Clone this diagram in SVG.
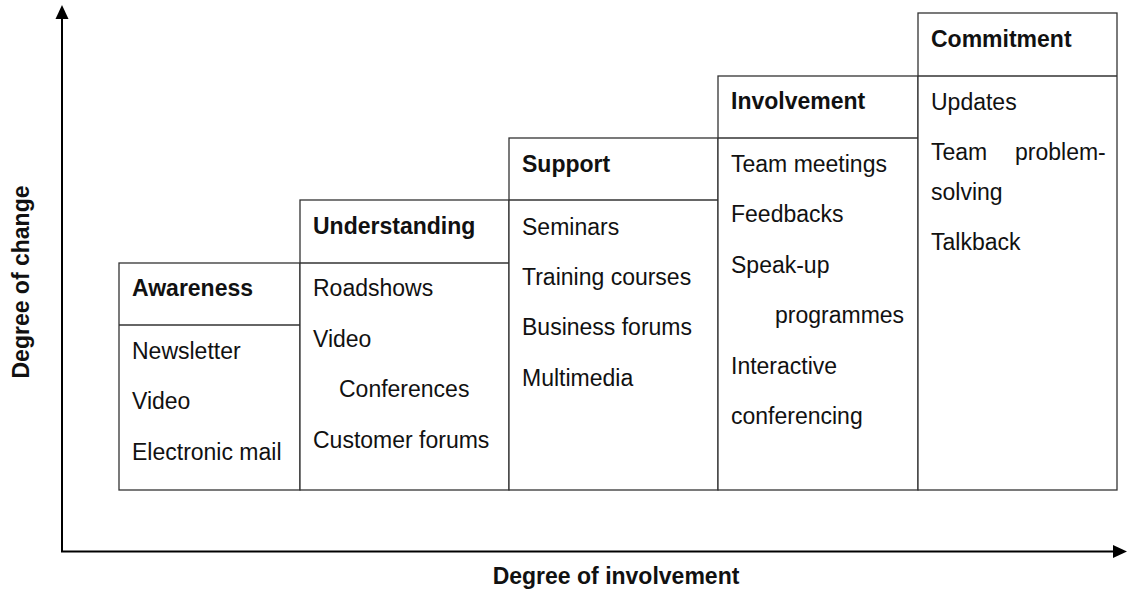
<svg xmlns="http://www.w3.org/2000/svg" width="1129" height="590" viewBox="0 0 1129 590">
<defs>
<style>
.box{fill:#fff;stroke:#333;stroke-width:1.3}
.div{stroke:#333;stroke-width:1.3}
.axis{stroke:#000;stroke-width:2;fill:none}
text{font-family:"Liberation Sans",Arial,sans-serif;font-size:23px;fill:#111}
.h{font-weight:bold}
</style>
</defs>
<rect width="1129" height="590" fill="#fff"/>
<g id="connectors">
<line class="axis" x1="62" y1="18" x2="62" y2="551.5"/>
<line class="axis" x1="61" y1="551.5" x2="1115" y2="551.5"/>
<polygon points="62,5 55.5,19 68.5,19" fill="#000"/>
<polygon points="1127,551.5 1113,545 1113,558" fill="#000"/>
</g>
<g id="awareness">
<rect class="box" x="119" y="263" width="181" height="227"/>
<line class="div" x1="119" y1="325" x2="300" y2="325"/>
<text class="h" x="132" y="296">Awareness</text>
<text x="132" y="359">Newsletter</text>
<text x="132" y="409">Video</text>
<text x="132" y="460">Electronic mail</text>
</g>
<g id="understanding">
<rect class="box" x="300" y="200" width="209" height="290"/>
<line class="div" x1="300" y1="263" x2="509" y2="263"/>
<text class="h" x="313" y="234">Understanding</text>
<text x="313" y="296">Roadshows</text>
<text x="313" y="347">Video</text>
<text x="339" y="397">Conferences</text>
<text x="313" y="448">Customer forums</text>
</g>
<g id="support">
<rect class="box" x="509" y="138" width="209" height="352"/>
<line class="div" x1="509" y1="200" x2="718" y2="200"/>
<text class="h" x="522" y="172">Support</text>
<text x="522" y="235">Seminars</text>
<text x="522" y="285">Training courses</text>
<text x="522" y="335">Business forums</text>
<text x="522" y="386">Multimedia</text>
</g>
<g id="involvement">
<rect class="box" x="718" y="76" width="200" height="414"/>
<line class="div" x1="718" y1="138" x2="918" y2="138"/>
<text class="h" x="731" y="109">Involvement</text>
<text x="731" y="172">Team meetings</text>
<text x="731" y="222">Feedbacks</text>
<text x="731" y="273">Speak-up</text>
<text x="775" y="323">programmes</text>
<text x="731" y="374">Interactive</text>
<text x="731" y="424">conferencing</text>
</g>
<g id="commitment">
<rect class="box" x="918" y="13" width="199" height="477"/>
<line class="div" x1="918" y1="76" x2="1117" y2="76"/>
<text class="h" x="931" y="47">Commitment</text>
<text x="931" y="110">Updates</text>
<text x="931" y="160"><tspan x="931">Team</tspan><tspan x="1015">problem-</tspan></text>
<text x="931" y="200">solving</text>
<text x="931" y="250">Talkback</text>
</g>
<g id="labels">
<text class="h" transform="translate(29,282) rotate(-90)" text-anchor="middle">Degree of change</text>
<text class="h" x="616" y="584" text-anchor="middle">Degree of involvement</text>
</g>
</svg>
